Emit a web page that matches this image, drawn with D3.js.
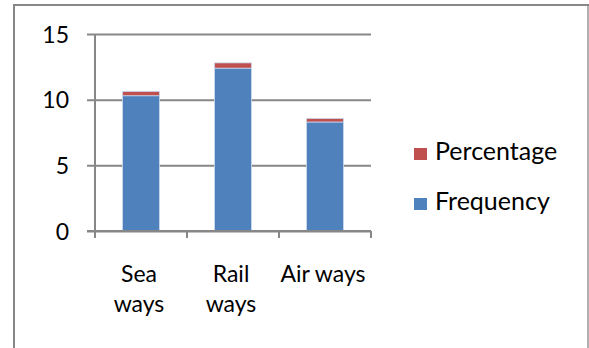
<!DOCTYPE html>
<html>
<head>
<meta charset="utf-8">
<script src="https://cdn.jsdelivr.net/npm/d3@7"></script>
<style>
  html, body { margin: 0; padding: 0; background: #ffffff; }
  svg { display: block; }
  text { font-family: Lato, "Open Sans", sans-serif; fill: #000; }
</style>
</head>
<body>
<svg id="chart" width="589" height="348"></svg>
<script>
// Transport modes and the two stacked series
const categories = ["Sea ways", "Rail ways", "Air ways"];
const frequency = [10.3, 12.4, 8.3];
const percentage = [0.33, 0.4, 0.27];
const seriesNames = ["Frequency", "Percentage"];
const legendOrder = ["Percentage", "Frequency"];
const yTicks = [0, 5, 10, 15];

const colors = { Frequency: "#4F81BD", Percentage: "#C0504D" };
const gridColor = "#878787";

const svg = d3.select("#chart");
const W = 589, H = 348;

// Outer chart frame
svg.append("rect")
  .attr("x", 14).attr("y", 5)
  .attr("width", 574).attr("height", 400)
  .attr("fill", "#fff")
  .attr("stroke", gridColor).attr("stroke-width", 2);
svg.append("line")
  .attr("x1", 588).attr("x2", 588).attr("y1", 6).attr("y2", H)
  .attr("stroke", "#d9d9d9").attr("stroke-width", 1);

const plot = { left: 95, right: 371, top: 34, bottom: 231 };

const x = d3.scaleBand()
  .domain(categories)
  .range([plot.left, plot.right])
  .paddingInner(0.6)
  .paddingOuter(0.3);

const y = d3.scaleLinear()
  .domain([0, 15])
  .range([plot.bottom, plot.top]);

// Gridlines + y axis
const yAxis = d3.axisLeft(y)
  .tickValues(yTicks)
  .tickSize(-(plot.right - plot.left))
  .tickSizeOuter(0)
  .tickPadding(0)
  .tickFormat(d3.format("d"));

const gy = svg.append("g")
  .attr("transform", `translate(${plot.left},0)`)
  .call(yAxis);
gy.select(".domain").remove();
gy.selectAll(".tick line")
  .attr("x1", -8)
  .attr("stroke", gridColor).attr("stroke-width", 2);
gy.selectAll(".tick text")
  .attr("x", -26)
  .attr("dy", "0.35em")
  .style("font-family", "Lato, sans-serif")
  .style("font-size", "23px")
  .attr("fill", "#000");

// Stacked bars
const rows = categories.map((c, i) => ({ category: c, Frequency: frequency[i], Percentage: percentage[i] }));
const stacked = d3.stack().keys(seriesNames)(rows);

svg.append("g")
  .selectAll("g")
  .data(stacked)
  .join("g")
  .attr("fill", d => colors[d.key])
  .selectAll("rect")
  .data(d => d)
  .join("rect")
  .attr("x", d => x(d.data.category))
  .attr("width", x.bandwidth())
  .attr("y", d => y(d[1]))
  .attr("height", d => y(d[0]) - y(d[1]))
  .attr("stroke", "#c9d7ec")
  .attr("stroke-width", 0.8);

// y axis line
svg.append("line")
  .attr("x1", plot.left).attr("x2", plot.left)
  .attr("y1", plot.top).attr("y2", plot.bottom + 7)
  .attr("stroke", gridColor).attr("stroke-width", 2);

// x axis line and category boundary ticks
svg.append("line")
  .attr("x1", plot.left - 8).attr("x2", plot.right)
  .attr("y1", plot.bottom).attr("y2", plot.bottom)
  .attr("stroke", gridColor).attr("stroke-width", 2);

const step = x.step();
const bounds = d3.range(categories.length + 1).map(i => plot.left + i * step);
svg.append("g").selectAll("line")
  .data(bounds)
  .join("line")
  .attr("x1", d => d).attr("x2", d => d)
  .attr("y1", plot.bottom).attr("y2", plot.bottom + 7)
  .attr("stroke", gridColor).attr("stroke-width", 2);

// Category labels, wrapped to the category width
const labelG = svg.append("g")
  .style("font-size", "23px");
categories.forEach(c => {
  const cx = x(c) + x.bandwidth() / 2 - 2;
  const t = labelG.append("text")
    .attr("x", cx).attr("y", 282)
    .attr("text-anchor", "middle");
  const words = c.split(" ");
  let line = [];
  let lineNo = 0;
  let tspan = t.append("tspan").attr("x", cx).attr("y", 282);
  words.forEach(w => {
    line.push(w);
    tspan.text(line.join(" "));
    if (tspan.node().getComputedTextLength() > step && line.length > 1) {
      line.pop();
      tspan.text(line.join(" "));
      line = [w];
      lineNo += 1;
      tspan = t.append("tspan").attr("x", cx).attr("y", 282 + lineNo * 30).text(w);
    }
  });
});

// Legend
const legend = svg.append("g");
legendOrder.forEach((k, i) => {
  const ly = 160 + i * 50;
  legend.append("rect")
    .attr("x", 414).attr("y", ly - 12)
    .attr("width", 13).attr("height", 12)
    .attr("fill", colors[k]);
  legend.append("text")
    .attr("x", 435).attr("y", ly)
    .style("font-size", "25px")
    .text(k);
});
</script>
</body>
</html>
